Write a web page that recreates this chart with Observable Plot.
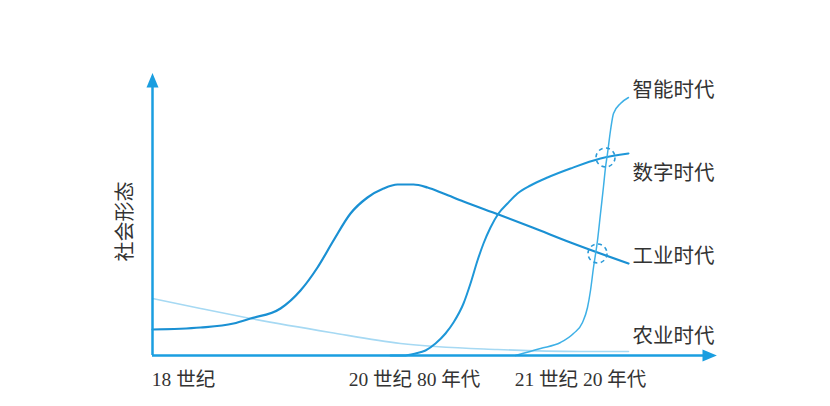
<!DOCTYPE html>
<html>
<head>
<meta charset="utf-8">
<script src="https://cdn.jsdelivr.net/npm/d3@7"></script>
<script src="https://cdn.jsdelivr.net/npm/@observablehq/plot@0.6"></script>
<style>
  html, body { margin: 0; padding: 0; background: #fff; }
  svg { display: block; }
</style>
</head>
<body>
<div id="chart"></div>
<script>
// x: time progression (arbitrary units), y: social-form level (arbitrary units)
const agriculture = [[0,57],[48,47],[98,37],[178,23],[248,12],[345,6],[428,4],[476,4]];
const industrial = [[0,26],[48,28],[81,32],[98,37],[128,47],[148,65],[165,88],[181,115],[198,142],[215,158],[231,167],[245,171],[261,171],[275,168],[291,162],[311,154],[346,141],[380,128],[418,113],[476,92]];
const digital = [[238,0],[251,0],[263,2],[273,5],[283,12],[293,22],[301,33],[311,52],[318,72],[325,95],[331,112],[338,128],[346,142],[355,152],[365,162],[378,170],[395,178],[418,187],[448,197],[476,202]];
const smart = [[363,0],[388,7],[408,13],[421,22],[430,33],[435,48],[438,65],[441,88],[445,115],[448,142],[451,169],[453,188],[455,202],[458,225],[461,242],[468,252],[476,258]];
const seriesNames = ["农业时代", "工业时代", "数字时代", "智能时代"];
const crossings = [[453,198],[445,102]];
const xTickValues = [31, 262, 428];
const xTickLabels = ["18 世纪", "20 世纪 80 年代", "21 世纪 20 年代"];
const yLabel = "社会形态";

const series = [agriculture, industrial, digital, smart];
const colors = ["#a6d9f3", "#1a90d3", "#1e97d8", "#3eb0e6"];
const widths = [1.6, 2.2, 2, 1.5];
const labelDy = [-15, -7, 20, -7];

const arrowHead = {
  draw(ctx, size) {
    const r = Math.sqrt(size / Math.PI);
    ctx.moveTo(0, -r * 2.4);
    ctx.lineTo(r, 0);
    ctx.lineTo(-r, 0);
    ctx.closePath();
  }
};

const axisColor = "#1a9ee0";
const textColor = "#333";
const marks = [];

series.forEach((s, i) => {
  marks.push(Plot.line(s, {x: d => d[0], y: d => d[1], stroke: colors[i], strokeWidth: widths[i], curve: "monotone-x"}));
});

// axes
marks.push(Plot.ruleY([0], {x1: 0, x2: 552, stroke: axisColor, strokeWidth: 2.5}));
marks.push(Plot.ruleX([0], {y1: 0, y2: 270, stroke: axisColor, strokeWidth: 2.5}));
marks.push(Plot.dot([[0, 268]], {x: d => d[0], y: d => d[1], r: 6, symbol: arrowHead, fill: axisColor, stroke: "none"}));
marks.push(Plot.dot([[550, 0]], {x: d => d[0], y: d => d[1], r: 6, symbol: arrowHead, fill: axisColor, stroke: "none", rotate: 90}));

// dashed circles at crossings
marks.push(Plot.dot(crossings, {x: d => d[0], y: d => d[1], r: 9.5, stroke: "#2a9ad8", strokeWidth: 1.6, strokeDasharray: "4,3.5", fill: "none"}));

// series labels
series.forEach((s, i) => {
  marks.push(Plot.text([s[s.length - 1]], {x: d => d[0], y: d => d[1], text: [seriesNames[i]], textAnchor: "start", dx: 4, dy: labelDy[i], fontSize: 20.5, fill: textColor}));
});

// x tick labels
marks.push(Plot.text(xTickValues, {x: d => d, y: 0, text: (d, i) => xTickLabels[i], dy: 24, fontSize: 19.5, fill: textColor, textAnchor: "middle"}));

// y label
marks.push(Plot.text([yLabel], {x: -27, y: 134, text: d => d, rotate: -90, fontSize: 20, fill: textColor}));

const chart = Plot.plot({
  width: 830,
  height: 406,
  x: {domain: [0, 566], range: [152, 718], axis: null},
  y: {domain: [0, 283], range: [355, 72], axis: null},
  style: {fontFamily: "'Liberation Serif', 'Noto Sans CJK SC', serif", background: "#fff"},
  marks
});
document.getElementById("chart").appendChild(chart);
</script>
</body>
</html>
